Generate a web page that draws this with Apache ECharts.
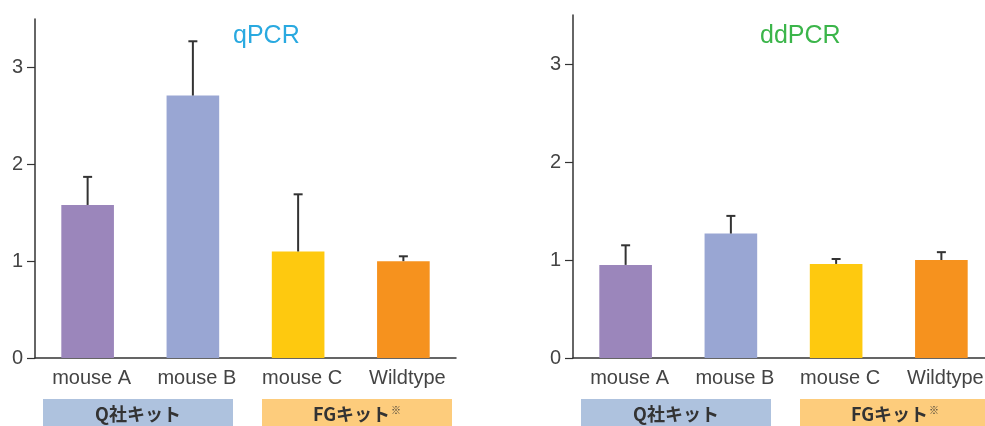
<!DOCTYPE html>
<html><head><meta charset="utf-8">
<script src="https://cdn.jsdelivr.net/npm/echarts@6/dist/echarts.min.js"></script>
<style>html,body{margin:0;padding:0;background:#fff}#c{width:985px;height:426px}</style>
</head><body><div id="c"></div>
<script>
const categories = ['mouse A', 'mouse B', 'mouse C', 'Wildtype'];
const barColors = ['#9B86BB', '#99A6D3', '#FEC90F', '#F6921E'];
const qpcrMean = [1.58, 2.71, 1.10, 1.00];
const qpcrUpper = [1.87, 3.27, 1.69, 1.05];
const ddpcrMean = [0.95, 1.27, 0.96, 1.00];
const ddpcrUpper = [1.15, 1.45, 1.01, 1.08];
const yTicks = [0, 1, 2, 3];
const groupLabels = ['Q社キット', 'FGキット'];
const groupMarks = ['', '※'];
const groupFrom = [0, 2];
const groupTo = [1, 3];
const groupColors = ['#AEC2DE', '#FDCC7C'];
const titles = ['qPCR', 'ddPCR'];
const titleColors = ['#29A9E0', '#3BB54A'];

const latin = '"Liberation Sans", Arial, sans-serif';
const cjk = '"Noto Sans CJK JP", "Liberation Sans", sans-serif';
// box left offset from the first category band's left edge, in px
const boxOffsets = [8, 16.5];
const boxWidth = 190;

const chart = echarts.init(document.getElementById('c'), null, {renderer: 'canvas'});

const grids = [
  {left: 35, top: 19, width: 421, bottom: 68, outerBoundsMode: 'none'},
  {left: 573, top: 15, width: 421, bottom: 68, outerBoundsMode: 'none'}
];

function xAxis(i) {
  return {
    type: 'category', gridIndex: i, data: categories,
    axisLine: {lineStyle: {color: '#333', width: 1.5}},
    axisTick: {show: false},
    axisLabel: {color: '#444', fontSize: 20, fontFamily: latin, margin: 10, interval: 0, padding: [0, 0, 0, 8]}
  };
}
function yAxis(i) {
  return {
    type: 'value', gridIndex: i, min: 0, max: 3.5, interval: 1,
    splitLine: {show: false},
    axisLine: {show: true, lineStyle: {color: '#333', width: 1.5}},
    axisTick: {show: true, length: 8, lineStyle: {color: '#333', width: 1.2}, customValues: yTicks},
    axisLabel: {color: '#444', fontSize: 20, fontFamily: latin, margin: 12, customValues: yTicks}
  };
}

function barSeries(i, means) {
  return {
    type: 'bar', xAxisIndex: i, yAxisIndex: i, barWidth: '50%',
    data: means.map((v, k) => ({value: v, itemStyle: {color: barColors[k]}})),
    z: 2
  };
}
function errSeries(i, means, uppers) {
  return {
    type: 'custom', xAxisIndex: i, yAxisIndex: i, z: 3,
    data: means.map((v, k) => [k, v, uppers[k]]),
    renderItem: function (params, api) {
      const lo = api.coord([api.value(0), api.value(1)]);
      const hi = api.coord([api.value(0), api.value(2)]);
      const style = {stroke: '#333', lineWidth: 2};
      return {type: 'group', children: [
        {type: 'line', shape: {x1: lo[0], y1: lo[1], x2: hi[0], y2: hi[1]}, style: style},
        {type: 'line', shape: {x1: hi[0] - 4.5, y1: hi[1], x2: hi[0] + 4.5, y2: hi[1]}, style: style}
      ]};
    }
  };
}
function groupSeries(i) {
  return {
    type: 'custom', xAxisIndex: i, yAxisIndex: i, clip: false, silent: true,
    data: groupLabels.map((l, k) => [groupFrom[k], groupTo[k], k]),
    renderItem: function (params, api) {
      const k = api.value(2);
      const a = api.coord([api.value(0), 0]);
      const band = api.size([1, 0])[0];
      const x0 = a[0] - band / 2 + boxOffsets[k];
      const y0 = a[1] + 41;
      const h = 28;
      return {type: 'group', children: [
        {type: 'rect', shape: {x: x0, y: y0, width: boxWidth, height: h}, style: {fill: groupColors[k]}},
        {type: 'text', x: x0 + boxWidth / 2, y: y0 + h / 2 + 1, style: {
          text: '{m|' + groupLabels[k] + '}' + (groupMarks[k] ? '{s|' + groupMarks[k] + '}' : ''),
          textAlign: 'center', textVerticalAlign: 'middle',
          rich: {
            m: {fontFamily: cjk, fontWeight: 'bold', fontSize: 18, fill: '#333', color: '#333'},
            s: {fontFamily: cjk, fontWeight: 'bold', fontSize: 10, fill: '#333', color: '#333', verticalAlign: 'top', padding: [0, 0, 8, 1]}
          }
        }}
      ]};
    }
  };
}

chart.setOption({
  animation: false,
  backgroundColor: '#fff',
  title: [
    {text: titles[0], left: 228, top: 19, textStyle: {color: titleColors[0], fontSize: 25, fontWeight: 'normal', fontFamily: latin}},
    {text: titles[1], left: 755, top: 19, textStyle: {color: titleColors[1], fontSize: 25, fontWeight: 'normal', fontFamily: latin}}
  ],
  grid: grids,
  xAxis: [xAxis(0), xAxis(1)],
  yAxis: [yAxis(0), yAxis(1)],
  series: [
    barSeries(0, qpcrMean), errSeries(0, qpcrMean, qpcrUpper), groupSeries(0),
    barSeries(1, ddpcrMean), errSeries(1, ddpcrMean, ddpcrUpper), groupSeries(1)
  ]
});
</script></body></html>
